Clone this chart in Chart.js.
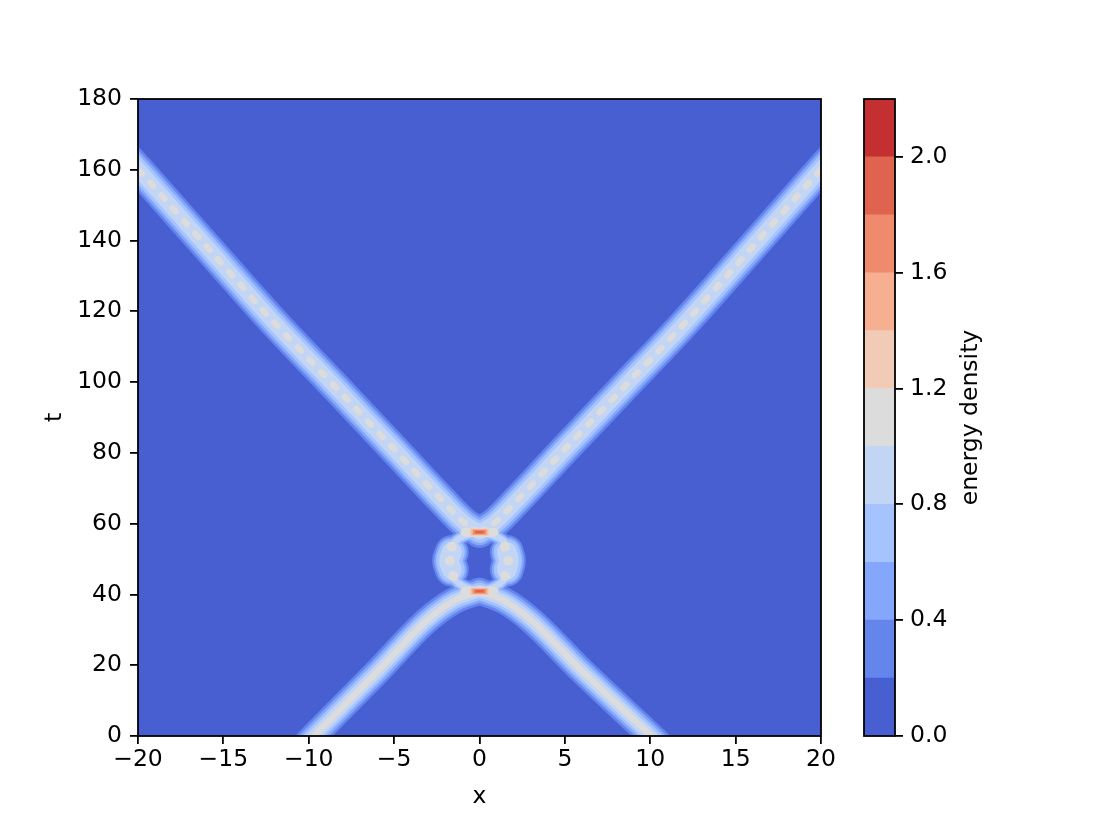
<!DOCTYPE html>
<html>
<head>
<meta charset="utf-8">
<script src="https://cdn.jsdelivr.net/npm/chart.js@4.4.1/dist/chart.umd.min.js"></script>
<style>
  body { margin: 0; background: #fff; }
  #wrap { position: relative; width: 1102px; height: 827px; }
  #main { position: absolute; left: 0; top: 0; }
  #cbar { position: absolute; left: 840px; top: 0; }
</style>
</head>
<body>
<div id="wrap">
  <canvas id="main" width="840" height="827"></canvas>
  <canvas id="cbar" width="262" height="827"></canvas>
</div>
<script>
// contour levels and their colours (coolwarm)
const levels = [0, 0.2, 0.4, 0.6, 0.8, 1.0, 1.2, 1.4, 1.6, 1.8, 2.0, 2.2];
const levelColors = ["#485fd1", "#6485ec", "#84a7fc", "#a5c3fe", "#c2d5f4", "#dddcdc",
                     "#f2cbb7", "#f7af91", "#f08a6c", "#df634e", "#c43032"];

const xTicks = [-20, -15, -10, -5, 0, 5, 10, 15, 20];
const tTicks = [0, 20, 40, 60, 80, 100, 120, 140, 160, 180];
const cbTicks = [0, 0.4, 0.8, 1.2, 1.6, 2.0];

// incoming kinks (x, t)
const lowerLeftX = [-10.3, -9.7, -5.9, -3.05, -1.5, 0];
const lowerLeftT = [-3, 0, 18.6, 32.8, 38.2, 40.9];
const lowerRightX = [10.7, 10.05, 5.95, 3.0, 1.45, 0];
const lowerRightT = [-3, 0, 18.6, 32.8, 38.2, 40.9];

// outgoing kinks
const upperLeftX = [0, -0.85, -2.2, -4.95, -8.27, -11.98, -15.98, -19.59, -21];
const upperLeftT = [57.6, 60.1, 66.6, 80.8, 97.8, 116.6, 138.3, 158.0, 165.5];
const upperRightX = [0, 0.85, 2.2, 4.95, 8.3, 12.0, 16.0, 19.6, 21];
const upperRightT = [57.6, 60.1, 66.6, 80.8, 97.8, 116.6, 138.3, 158.0, 165.5];

// bound state between the two bounces
const ringLeftX = [0, -0.9, -1.45, -1.7, -1.78, -1.7, -1.45, -0.9, 0];
const ringLeftT = [40.9, 42.2, 44.2, 46.8, 49.5, 52.2, 54.8, 56.5, 57.6];
const ringRightX = [0, 0.9, 1.45, 1.7, 1.78, 1.7, 1.45, 0.9, 0];
const ringRightT = [40.9, 42.2, 44.2, 46.8, 49.5, 52.2, 54.8, 56.5, 57.6];
const lobeLeftX = [-1.62, -1.78, -1.62];
const lobeLeftT = [47.0, 49.5, 52.0];
const lobeRightX = [1.6, 1.72, 1.6];
const lobeRightT = [47.0, 49.5, 52.0];
const blobX = [-1.63, -1.73, -1.53, 1.49, 1.69, 1.49];
const blobT = [53.5, 49.5, 45.2, 53.5, 49.5, 45.2];

// hot spots at the two bounces
const spotX = [0, 0];
const spotT = [40.9, 57.6];

const pts = (xs, ts) => xs.map((x, i) => ({ x: x, y: ts[i] }));
const datasets = [];
const lineBase = { pointRadius: 0, borderCapStyle: "round", borderJoinStyle: "round", clip: 0, fill: false };

function band(data, widths, core, smooth) {
  const shape = smooth === "mono" ? { cubicInterpolationMode: "monotone" } : { tension: 0.4 };
  widths.forEach((w, k) => {
    datasets.push({ ...lineBase, ...shape, data: data, borderColor: levelColors[k + 1], borderWidth: w, order: 10 - k });
  });
  if (core) {
    datasets.push({ ...lineBase, ...shape, data: data, borderColor: levelColors[5], borderWidth: 6, borderDash: core, order: 5 });
  }
}

band(pts(lowerLeftX, lowerLeftT), [27, 22, 17, 12], [], "mono");
band(pts(lowerRightX, lowerRightT), [27, 22, 17, 12], [], "mono");
band(pts(upperLeftX, upperLeftT), [31, 26, 21, 15], [5, 12], "mono");
band(pts(upperRightX, upperRightT), [31, 26, 21, 15], [5, 12], "mono");
band(pts(ringLeftX, ringLeftT), [15, 12, 9, 6], null);
band(pts(ringRightX, ringRightT), [15, 12, 9, 6], null);
band(pts(lobeLeftX, lobeLeftT), [34, 30, 26, 20], null);
band(pts(lobeRightX, lobeRightT), [34, 30, 26, 20], null);

datasets.push({
  data: pts(blobX, blobT), showLine: false, pointRadius: 5, pointBorderWidth: 0,
  pointBackgroundColor: levelColors[5], order: 5, clip: 0
});

// each hot spot as nested short horizontal strokes: [colour, width, half length]
const spotLayers = [[5, 9, 0.85], [6, 7.5, 0.55], [7, 6, 0.47], [8, 4.5, 0.38], [9, 2.5, 0.25]];
spotX.forEach((sx, i) => {
  spotLayers.forEach(([c, w, half], k) => {
    datasets.push({
      ...lineBase, tension: 0, borderCapStyle: k === 0 ? "round" : "butt",
      data: [{ x: sx - half, y: spotT[i] }, { x: sx + half, y: spotT[i] }],
      borderColor: levelColors[c], borderWidth: w, order: 4 - k
    });
  });
});

Chart.defaults.font.family = "'DejaVu Sans', sans-serif";
Chart.defaults.font.size = 23.5;
Chart.defaults.color = "#000";

const minus = (v) => (v < 0 ? "\u2212" + Math.abs(v) : String(v));

const areaFill = {
  id: "areaFill",
  beforeDatasetsDraw(chart) {
    const { ctx, chartArea: a } = chart;
    ctx.save();
    ctx.fillStyle = levelColors[0];
    ctx.fillRect(a.left, a.top, a.width, a.height);
    ctx.restore();
  }
};

const frame = {
  id: "frame",
  afterDraw(chart) {
    const { ctx, chartArea: a } = chart;
    ctx.save();
    ctx.strokeStyle = "#000";
    ctx.lineWidth = 1.8;
    ctx.strokeRect(a.left, a.top, a.width, a.height);
    ctx.restore();
  }
};

const tickGrid = { drawOnChartArea: false, drawTicks: true, tickLength: 8, lineWidth: 1.8, tickWidth: 1.8, tickColor: "#000" };

new Chart(document.getElementById("main"), {
  type: "line",
  data: { datasets: datasets },
  options: {
    responsive: false,
    animation: false,
    layout: { padding: { top: 99, right: 19, left: 0, bottom: 0 } },
    plugins: { legend: { display: false }, tooltip: { enabled: false } },
    scales: {
      x: {
        type: "linear", min: -20, max: 20,
        afterBuildTicks: (s) => { s.ticks = xTicks.map((v) => ({ value: v })); },
        afterFit: (s) => { s.height = 91; },
        ticks: { callback: minus, padding: 2, maxRotation: 0 },
        grid: tickGrid,
        border: { display: false },
        title: { display: true, text: "x", padding: { top: 4, bottom: 16 } }
      },
      y: {
        type: "linear", min: 0, max: 180,
        afterBuildTicks: (s) => { s.ticks = tTicks.map((v) => ({ value: v })); },
        afterFit: (s) => { s.width = 138; },
        ticks: { padding: 8 },
        grid: tickGrid,
        border: { display: false },
        title: { display: true, text: "t", padding: { top: 41, bottom: 0 } }
      }
    }
  },
  plugins: [areaFill, frame]
});

const cbLabel = {
  id: "cbLabel",
  afterDraw(chart) {
    const { ctx, chartArea: a } = chart;
    ctx.save();
    ctx.translate(a.right + 76, (a.top + a.bottom) / 2);
    ctx.rotate(-Math.PI / 2);
    ctx.font = "23.5px 'DejaVu Sans', sans-serif";
    ctx.fillStyle = "#000";
    ctx.textAlign = "center";
    ctx.textBaseline = "middle";
    ctx.fillText("energy density", 0, 0);
    ctx.restore();
  }
};

new Chart(document.getElementById("cbar"), {
  type: "bar",
  data: {
    labels: [""],
    datasets: levelColors.map((c, i) => ({
      data: [[levels[i], levels[i + 1]]],
      backgroundColor: c, borderWidth: 0, barPercentage: 1, categoryPercentage: 1, grouped: false
    }))
  },
  options: {
    responsive: false,
    animation: false,
    layout: { padding: { top: 99, bottom: 91, left: 24, right: 0 } },
    plugins: { legend: { display: false }, tooltip: { enabled: false } },
    scales: {
      x: { display: false },
      y: {
        position: "right", min: 0, max: 2.2,
        afterBuildTicks: (s) => { s.ticks = cbTicks.map((v) => ({ value: v })); },
        afterFit: (s) => { s.width = 207; },
        ticks: { padding: 7, callback: (v) => v.toFixed(1) },
        grid: tickGrid,
        border: { display: false }
      }
    }
  },
  plugins: [frame, cbLabel]
});
</script>
</body>
</html>
